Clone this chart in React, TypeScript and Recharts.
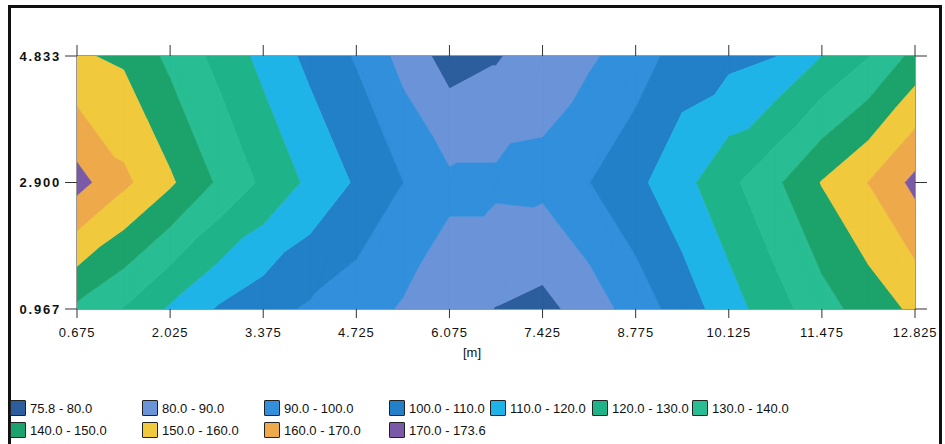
import React from "react";
import { ScatterChart, Scatter, XAxis, YAxis, ReferenceLine } from "recharts";

// grid nodes of the measured field (x every 0.675 m, three rows)
const xNodes = [0.675, 1.35, 2.025, 2.7, 3.375, 4.05, 4.725, 5.4, 6.075, 6.75, 7.425, 8.1, 8.775, 9.45, 10.125, 10.8, 11.475, 12.15, 12.825];
const yNodes = [0.967, 2.9, 4.833];

// values, one list per row
const rowBottom = [138, 129.5, 118.6, 109.3, 103.5, 98.6, 94.3, 89, 84.5, 79.7, 77, 84.5, 94.5, 104.5, 115.5, 126, 136, 144.5, 152];
const rowMid = [173.6, 162.2, 151.5, 139, 128.1, 117.9, 108.8, 100, 92, 92, 92.5, 99.8, 107.5, 116.7, 127.4, 138.1, 150.5, 160.2, 172.6];
const rowTop = [151, 148.5, 137.5, 127.5, 117, 107.4, 99, 86.6, 75.8, 79, 85.5, 88.5, 94.8, 104.6, 107, 109.8, 120, 129.5, 143];

const levels = [75.8, 80, 90, 100, 110, 120, 130, 140, 150, 160, 170, 173.6];
const bandColors = ["#2c5e9d", "#6b93d8", "#318fdc", "#2180c7", "#1fb4e8", "#1fb389", "#28bd92", "#1ca36b", "#f0c93c", "#eeaa4a", "#7a5aa6"];
const bandLabels = ["75.8 - 80.0", "80.0 - 90.0", "90.0 - 100.0", "100.0 - 110.0", "110.0 - 120.0", "120.0 - 130.0", "130.0 - 140.0", "140.0 - 150.0", "150.0 - 160.0", "160.0 - 170.0", "170.0 - 173.6"];

const xTicks = [0.675, 2.025, 3.375, 4.725, 6.075, 7.425, 8.775, 10.125, 11.475, 12.825];
const yTicks = [0.967, 2.9, 4.833];
// field corners, so the top and right frame axes know their range
const corners = [{ x: 0.675, y: 0.967 }, { x: 12.825, y: 4.833 }];

type Node = { x: number; y: number; v: number };

const rows = [rowBottom, rowMid, rowTop];

// keep the part of a polygon above (or below) a level, linear in v
function clip(poly: Node[], level: number, above: boolean): Node[] {
  const out: Node[] = [];
  for (let i = 0; i < poly.length; i++) {
    const a = poly[i];
    const b = poly[(i + 1) % poly.length];
    const ina = above ? a.v >= level : a.v <= level;
    const inb = above ? b.v >= level : b.v <= level;
    if (ina) out.push(a);
    if (ina !== inb) {
      const t = (level - a.v) / (b.v - a.v);
      out.push({ x: a.x + t * (b.x - a.x), y: a.y + t * (b.y - a.y), v: level });
    }
  }
  return out;
}

// split every cell along the diagonal whose corners are closest in value
function triangles(): Node[][] {
  const tris: Node[][] = [];
  for (let j = 0; j < yNodes.length - 1; j++) {
    for (let i = 0; i < xNodes.length - 1; i++) {
      const a = { x: xNodes[i], y: yNodes[j], v: rows[j][i] };
      const b = { x: xNodes[i + 1], y: yNodes[j], v: rows[j][i + 1] };
      const c = { x: xNodes[i + 1], y: yNodes[j + 1], v: rows[j + 1][i + 1] };
      const d = { x: xNodes[i], y: yNodes[j + 1], v: rows[j + 1][i] };
      if (Math.abs(a.v - c.v) <= Math.abs(b.v - d.v)) tris.push([a, b, c], [a, c, d]);
      else tris.push([a, b, d], [b, c, d]);
    }
  }
  return tris;
}

const tris = triangles();
const bands = bandColors.map((color, k) => {
  const polys = tris
    .map((t) => clip(clip(t, levels[k], true), levels[k + 1], false))
    .filter((p) => p.length >= 3);
  return {
    color,
    sizes: polys.map((p) => p.length),
    data: polys.flat().map((p) => ({ x: p.x, y: p.y })),
  };
});

const noDot = () => <g />;

// the scatter "line" gets the scaled points; draw them back as filled polygons
const bandShape = (sizes: number[], color: string) => (props: any) => {
  const pts = props.points || [];
  let d = "";
  let k = 0;
  sizes.forEach((n) => {
    for (let i = 0; i < n; i++) {
      const p = pts[k + i];
      if (!p) return;
      d += (i === 0 ? "M" : "L") + p.x.toFixed(2) + "," + p.y.toFixed(2);
    }
    d += "Z";
    k += n;
  });
  return <path d={d} fill={color} stroke={color} strokeWidth={0.7} strokeLinejoin="round" />;
};

const fmt = (v: number) => v.toFixed(3);
const blank = () => "";
const axisStroke = "#333";

export default function App() {
  return (
    <div style={{ position: "absolute", left: 0, top: 0, width: 945, height: 444, background: "#fff", fontFamily: "'Liberation Sans', Arial, sans-serif", overflow: "hidden" }}>
      <div style={{ position: "absolute", left: 8, top: 5, width: 934, height: 442, border: "3px solid #111", boxSizing: "border-box" }} />
      <div style={{ position: "absolute", left: 0, top: 0 }}>
        <ScatterChart width={945} height={370} margin={{ top: 44, right: 10, bottom: 11, left: 17 }}>
          {bands.map((b, k) => (
            <Scatter
              key={k}
              data={b.data}
              xAxisId="b"
              yAxisId="l"
              fill={b.color}
              shape={noDot}
              line={bandShape(b.sizes, b.color)}
              isAnimationActive={false}
            />
          ))}
          <Scatter data={corners} xAxisId="t" yAxisId="r" shape={noDot} isAnimationActive={false} />
          {xTicks.slice(1, -1).map((x) => (
            <ReferenceLine key={x} x={x} xAxisId="b" yAxisId="l" stroke="#2b3a4a" strokeOpacity={0.4} strokeDasharray="5 4" />
          ))}
          <ReferenceLine y={2.9} xAxisId="b" yAxisId="l" stroke="#2b3a4a" strokeOpacity={0.4} strokeDasharray="5 4" />
          <XAxis
            xAxisId="b"
            type="number"
            dataKey="x"
            domain={[0.675, 12.825]}
            allowDataOverflow
            ticks={xTicks}
            tickFormatter={fmt}
            height={50}
            tickSize={9}
            tickMargin={10}
            stroke={axisStroke}
            tick={{ fill: "#111", fontSize: 13, letterSpacing: 0.8 }}
            label={{ value: "[m]", position: "insideBottom", offset: 2, dx: -24, fill: "#111", fontSize: 13 }}
          />
          <XAxis xAxisId="t" orientation="top" type="number" dataKey="x" domain={[0.675, 12.825]} allowDataOverflow ticks={xTicks} interval={0} height={12} tickSize={11} tickFormatter={blank} stroke={axisStroke} />
          <YAxis
            yAxisId="l"
            type="number"
            dataKey="y"
            domain={[0.967, 4.833]}
            allowDataOverflow
            ticks={yTicks}
            tickFormatter={fmt}
            width={60}
            tickSize={12}
            tickMargin={4}
            stroke={axisStroke}
            tick={{ fill: "#111", fontSize: 13, letterSpacing: 1.8, fontWeight: "bold" }}
          />
          <YAxis yAxisId="r" orientation="right" type="number" dataKey="y" domain={[0.967, 4.833]} allowDataOverflow ticks={yTicks} interval={0} width={20} tickSize={12} tickFormatter={blank} stroke={axisStroke} />
        </ScatterChart>
      </div>
      <div style={{ position: "absolute", left: 10, top: 400, display: "grid", gridTemplateColumns: "132px 122px 125px 101px 102px 100px 100px", rowGap: 6, fontSize: 13, color: "#111" }}>
        {bandLabels.map((label, k) => (
          <div key={label} style={{ display: "flex", alignItems: "center", height: 16, whiteSpace: "nowrap" }}>
            <span style={{ display: "inline-block", width: 16, height: 16, background: bandColors[k], border: "1px solid #222", boxSizing: "border-box", marginRight: 4, borderRadius: 1 }} />
            {label}
          </div>
        ))}
      </div>
    </div>
  );
}
